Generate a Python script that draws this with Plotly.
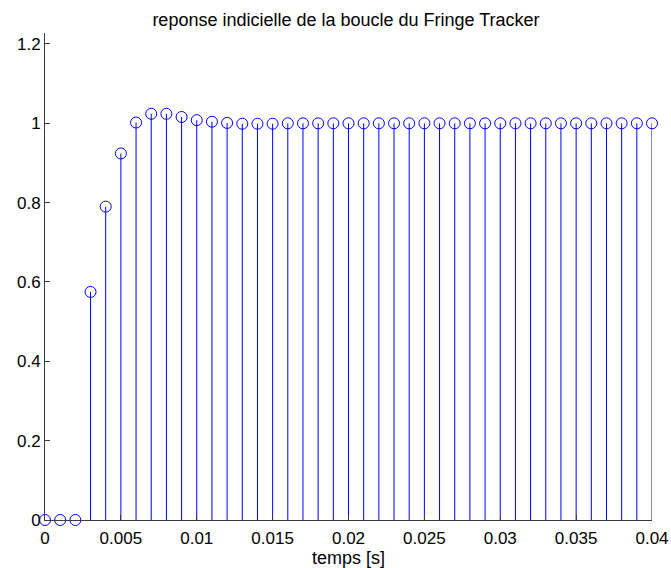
import plotly.graph_objects as go

# Sample times (s) and step response of the loop
temps = [i * 0.001 for i in range(41)]
reponse = [0.0, 0.0, 0.0, 0.575, 0.790, 0.924, 1.002, 1.024, 1.024, 1.016,
           1.008, 1.004, 1.001, 0.999, 0.999, 0.999, 1.0, 1.0, 1.0, 1.0,
           1.0, 1.0, 1.0, 1.0, 1.0, 1.0, 1.0, 1.0, 1.0, 1.0,
           1.0, 1.0, 1.0, 1.0, 1.0, 1.0, 1.0, 1.0, 1.0, 1.0, 1.0]

x_ticks = [0, 0.005, 0.01, 0.015, 0.02, 0.025, 0.03, 0.035, 0.04]
x_labels = ["0", "0.005", "0.01", "0.015", "0.02", "0.025", "0.03", "0.035", "0.04"]
y_ticks = [0, 0.2, 0.4, 0.6, 0.8, 1.0, 1.2]
y_labels = ["0", "0.2", "0.4", "0.6", "0.8", "1", "1.2"]

BLUE = "rgb(0,0,255)"

# stem lines: vertical segments from 0 to each value
sx, sy = [], []
for t, v in zip(temps, reponse):
    sx += [t, t, None]
    sy += [0, v, None]

fig = go.Figure()
fig.add_trace(go.Scatter(x=sx, y=sy, mode="lines",
                         line=dict(color=BLUE, width=1),
                         hoverinfo="skip", showlegend=False))
fig.add_trace(go.Scatter(x=temps, y=reponse, mode="markers",
                         marker=dict(symbol="circle-open", size=11,
                                     color=BLUE, line=dict(color=BLUE, width=1)),
                         cliponaxis=False, showlegend=False))

font = "Liberation Sans, Arial, sans-serif"
fig.update_layout(
    width=671, height=568,
    margin=dict(l=45, r=19, t=33, b=48),
    paper_bgcolor="white", plot_bgcolor="white",
    font=dict(family=font, size=17, color="black"),
    title=dict(text="reponse indicielle de la boucle du Fringe Tracker",
               x=346 / 671, xanchor="center", y=1 - 20 / 568, yanchor="middle",
               font=dict(size=18, family=font, color="black")),
    xaxis=dict(range=[0, 0.04], tickvals=x_ticks, ticktext=x_labels,
               showgrid=False, zeroline=False, showline=True,
               linecolor="rgb(60,60,60)", linewidth=1,
               ticks="inside", ticklen=5, tickcolor="rgb(60,60,60)",
               tickfont=dict(size=17), ticklabelstandoff=3,
               automargin=False,
               title=dict(text="temps [s]", standoff=4,
                          font=dict(size=18, family=font))),
    yaxis=dict(range=[0, 1.2277], tickvals=y_ticks, ticktext=y_labels,
               showgrid=False, zeroline=False, showline=True,
               linecolor="rgb(60,60,60)", linewidth=1,
               ticks="inside", ticklen=5, tickcolor="rgb(60,60,60)",
               tickfont=dict(size=17), automargin=False),
)

fig.write_html("out.html")
